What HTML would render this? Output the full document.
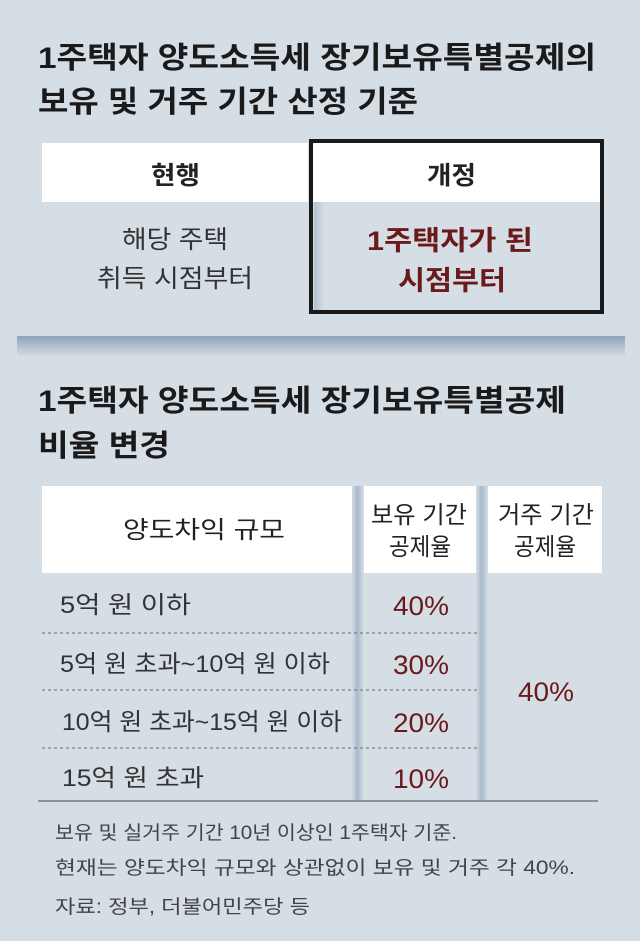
<!DOCTYPE html>
<html><head><meta charset="utf-8"><style>
html,body{margin:0;padding:0;background:#d5dde5;}
svg{display:block;}
text{font-family:"Liberation Sans","Noto Sans CJK KR",sans-serif;}
</style></head><body>
<svg width="640" height="941" viewBox="0 0 640 941" xmlns="http://www.w3.org/2000/svg">
<defs>
<linearGradient id="band" x1="0" y1="0" x2="0" y2="1">
<stop offset="0" stop-color="#8fa3bb"/><stop offset="1" stop-color="#d3dbe4"/></linearGradient>
<linearGradient id="sh" x1="0" y1="0" x2="1" y2="0">
<stop offset="0" stop-color="#d5dde5"/><stop offset="0.45" stop-color="#a9b9cb"/><stop offset="1" stop-color="#d5dde5"/></linearGradient>
<linearGradient id="sh2" x1="0" y1="0" x2="1" y2="0">
<stop offset="0" stop-color="#a9b9cb"/><stop offset="1" stop-color="#d5dde5"/></linearGradient>
</defs>
<rect width="640" height="941" fill="#d5dde5"/>
<g font-weight="bold" fill="#1a1a1a" font-size="30">
<text x="38" y="68" textLength="558" lengthAdjust="spacingAndGlyphs">1주택자 양도소득세 장기보유특별공제의</text>
<text x="38" y="112" textLength="380" lengthAdjust="spacingAndGlyphs">보유 및 거주 기간 산정 기준</text>
<text x="38" y="411" textLength="528" lengthAdjust="spacingAndGlyphs">1주택자 양도소득세 장기보유특별공제</text>
<text x="38" y="456" textLength="132" lengthAdjust="spacingAndGlyphs">비율 변경</text>
</g>
<!-- top table -->
<rect x="42" y="143" width="266" height="59" fill="#fff"/>
<rect x="312" y="143" width="290" height="59" fill="#fff"/>
<rect x="314" y="202" width="10" height="109" fill="url(#sh2)" opacity="0.8"/>
<rect x="311" y="141" width="291" height="171" fill="none" stroke="#1a1a1a" stroke-width="4"/>
<g font-size="25" fill="#222">
<text x="151" y="184" font-weight="bold" textLength="49" lengthAdjust="spacingAndGlyphs">현행</text>
<text x="427" y="184" font-weight="bold" textLength="49" lengthAdjust="spacingAndGlyphs">개정</text>
<text x="122" y="248" fill="#333" textLength="106" lengthAdjust="spacingAndGlyphs">해당 주택</text>
<text x="97" y="287" fill="#333" textLength="156" lengthAdjust="spacingAndGlyphs">취득 시점부터</text>
<text x="367" y="250" fill="#6a1a1a" font-weight="bold" font-size="27" textLength="166" lengthAdjust="spacingAndGlyphs">1주택자가 된</text>
<text x="398" y="290" fill="#6a1a1a" font-weight="bold" font-size="27" textLength="108" lengthAdjust="spacingAndGlyphs">시점부터</text>
</g>
<rect x="17" y="336" width="608" height="20" fill="url(#band)"/>
<!-- second table -->
<rect x="42" y="486" width="312" height="87" fill="#fff"/>
<rect x="360" y="486" width="118" height="87" fill="#fff"/>
<rect x="484" y="486" width="118" height="87" fill="#fff"/>
<rect x="352" y="486" width="12" height="314" fill="url(#sh)"/>
<rect x="476" y="486" width="12" height="314" fill="url(#sh)"/>
<g stroke="#6b6b6b" stroke-width="1" stroke-dasharray="3,3">
<line x1="42" y1="633" x2="478" y2="633"/>
<line x1="42" y1="690" x2="478" y2="690"/>
<line x1="42" y1="748" x2="478" y2="748"/>
</g>
<line x1="38" y1="801" x2="598" y2="801" stroke="#777" stroke-width="1.5"/>
<g font-size="24" fill="#222">
<text x="123" y="538" textLength="162" lengthAdjust="spacingAndGlyphs">양도차익 규모</text>
<text x="371" y="523" textLength="96" lengthAdjust="spacingAndGlyphs">보유 기간</text>
<text x="389" y="555" textLength="62" lengthAdjust="spacingAndGlyphs">공제율</text>
<text x="498" y="523" textLength="96" lengthAdjust="spacingAndGlyphs">거주 기간</text>
<text x="514" y="555" textLength="62" lengthAdjust="spacingAndGlyphs">공제율</text>
</g>
<g font-size="24" fill="#333">
<text x="60" y="613" textLength="131" lengthAdjust="spacingAndGlyphs">5억 원 이하</text>
<text x="60" y="672" textLength="270" lengthAdjust="spacingAndGlyphs">5억 원 초과~10억 원 이하</text>
<text x="62" y="730" textLength="280" lengthAdjust="spacingAndGlyphs">10억 원 초과~15억 원 이하</text>
<text x="62" y="786" textLength="142" lengthAdjust="spacingAndGlyphs">15억 원 초과</text>
</g>
<g font-size="27" fill="#6a1a1a">
<text x="393" y="615" textLength="56" lengthAdjust="spacingAndGlyphs">40%</text>
<text x="393" y="674" textLength="56" lengthAdjust="spacingAndGlyphs">30%</text>
<text x="393" y="732" textLength="56" lengthAdjust="spacingAndGlyphs">20%</text>
<text x="393" y="788" textLength="56" lengthAdjust="spacingAndGlyphs">10%</text>
<text x="518" y="701" textLength="56" lengthAdjust="spacingAndGlyphs">40%</text>
</g>
<g font-size="19" fill="#444">
<text x="55" y="839" textLength="402" lengthAdjust="spacingAndGlyphs">보유 및 실거주 기간 10년 이상인 1주택자 기준.</text>
<text x="55" y="874" textLength="520" lengthAdjust="spacingAndGlyphs">현재는 양도차익 규모와 상관없이 보유 및 거주 각 40%.</text>
<text x="55" y="913" textLength="255" lengthAdjust="spacingAndGlyphs">자료: 정부, 더불어민주당 등</text>
</g>
</svg>
</body></html>
